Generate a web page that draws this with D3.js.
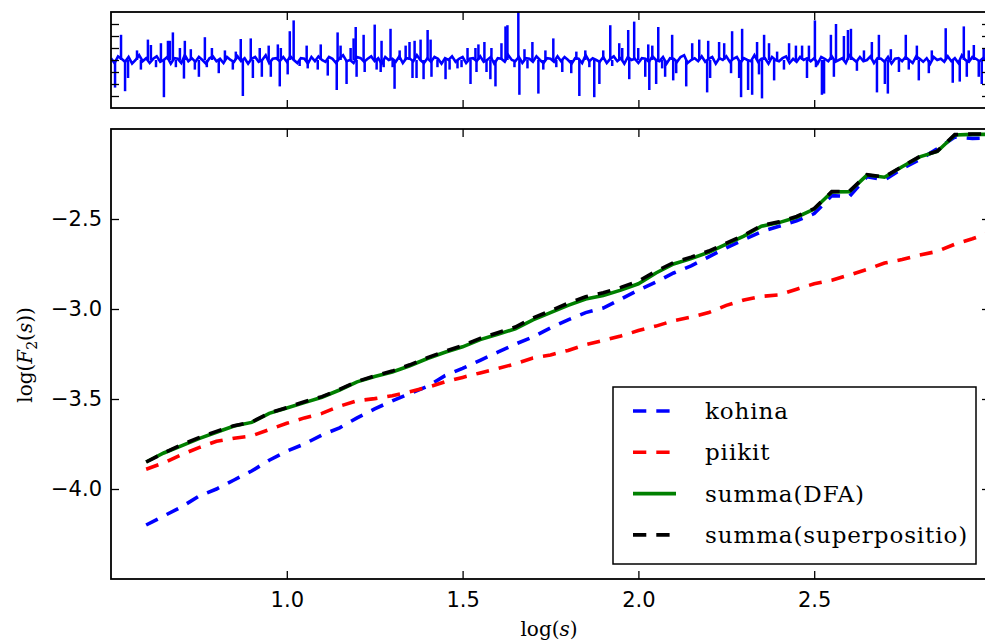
<!DOCTYPE html>
<html>
<head>
<meta charset="utf-8">
<script src="https://cdn.jsdelivr.net/npm/d3@7"></script>
<style>
body { margin: 0; background: #fff; }
.tk text { font-family: "DejaVu Sans", sans-serif; font-size: 21px; fill: #000; }
.tk line { stroke: #000; stroke-width: 1.3px; }
</style>
</head>
<body>
<div class="container"></div>
<script>
const wd = 985
const ht = 643

// bottom panel: DFA curves, x = log(s)
const logS = [0.60,0.65,0.70,0.75,0.80,0.85,0.90,0.95,1.00,1.05,1.10,1.15,1.20,1.25,1.30,1.35,1.40,1.45,1.50,1.55,
  1.60,1.65,1.70,1.75,1.80,1.85,1.90,1.95,2.00,2.05,2.10,2.15,2.20,2.25,2.30,2.35,2.40,2.45,2.50,2.55,
  2.60,2.65,2.70,2.75,2.80,2.85,2.90,2.95,3.00]

const kohina = [-4.20,-4.15,-4.10,-4.04,-4.00,-3.95,-3.90,-3.84,-3.79,-3.75,-3.70,-3.66,-3.605,-3.555,-3.51,-3.47,-3.43,-3.37,-3.33,-3.285,
  -3.24,-3.195,-3.155,-3.105,-3.06,-3.02,-2.995,-2.945,-2.895,-2.85,-2.80,-2.76,-2.71,-2.66,-2.615,-2.57,-2.54,-2.51,-2.47,-2.37,
  -2.375,-2.265,-2.283,-2.22,-2.17,-2.11,-2.045,-2.052,-2.05]

const piikit = [-3.89,-3.855,-3.81,-3.77,-3.735,-3.718,-3.705,-3.67,-3.635,-3.605,-3.58,-3.54,-3.51,-3.498,-3.482,-3.46,-3.435,-3.405,-3.38,-3.355,
  -3.33,-3.305,-3.272,-3.255,-3.23,-3.198,-3.175,-3.15,-3.12,-3.095,-3.065,-3.045,-3.02,-2.98,-2.95,-2.93,-2.922,-2.89,-2.86,-2.84,
  -2.811,-2.78,-2.745,-2.725,-2.70,-2.68,-2.64,-2.61,-2.575]

const summaDFA = [-3.85,-3.80,-3.76,-3.72,-3.685,-3.65,-3.63,-3.58,-3.55,-3.52,-3.49,-3.45,-3.405,-3.375,-3.35,-3.315,-3.275,-3.24,-3.21,-3.17,
  -3.14,-3.11,-3.06,-3.02,-2.98,-2.945,-2.925,-2.895,-2.86,-2.80,-2.75,-2.72,-2.685,-2.64,-2.595,-2.54,-2.52,-2.49,-2.445,-2.35,
  -2.348,-2.256,-2.268,-2.21,-2.155,-2.125,-2.033,-2.03,-2.03]

const summaSup = [-3.85,-3.80,-3.755,-3.715,-3.68,-3.648,-3.628,-3.578,-3.548,-3.515,-3.487,-3.447,-3.402,-3.372,-3.345,-3.31,-3.27,-3.235,-3.203,-3.163,
  -3.132,-3.1,-3.05,-3.01,-2.968,-2.932,-2.91,-2.88,-2.845,-2.79,-2.742,-2.712,-2.678,-2.634,-2.59,-2.536,-2.516,-2.486,-2.442,-2.348,
  -2.346,-2.254,-2.266,-2.208,-2.153,-2.123,-2.031,-2.028,-2.028]

const xTicks = [1.0,1.5,2.0,2.5]
const yTicks = [-4.0,-3.5,-3.0,-2.5]

const legendNames = ["kohina","piikit","summa(DFA)","summa(superpositio)"]
const legendColors = ["#0000ff","#ff0000","#008000","#000000"]
const legendDashed = [true,true,false,true]

// top panel: signal (sample index, value), baseline every 20 samples + spikes
const baseStep = 20
const baseNoise = [
  0.15,-0.25,0.3,0.1,-0.15,0.25,-0.3,0.0,0.4,-0.1,0.15,-0.25,0.1,0.3,-0.15,0.0,0.25,-0.3,0.15,0.1,-0.25,0.4,-0.1,0.15,-0.15,
  0.25,0.0,-0.3,0.15,0.3,-0.1,0.1,-0.25,0.25,0.0,-0.15,0.3,-0.1,0.15,-0.3,0.1,0.25,-0.15,0.0,0.4,-0.25,0.1,0.15,-0.1,0.25,
  -0.15,0.3,0.0,-0.25,0.15,0.1,-0.3,0.25,-0.1,0.3,0.0,-0.15,0.25,0.1,-0.25,0.15,0.4,-0.1,0.0,-0.25,0.25,0.15,-0.15,0.1,0.3,
  -0.1,0.15,-0.3,0.25,0.0,0.1,-0.15,0.3,-0.25,0.15,0.1,-0.1,0.4,0.0,-0.25,0.15,-0.15,0.25,0.1,-0.3,0.15,0.0,0.3,-0.15,0.1,
  0.25,-0.25,0.1,0.15,-0.1,0.3,-0.15,0.0,0.25,-0.3,0.15,0.1,-0.15,0.4,0.0,-0.1,0.25,-0.25,0.15,0.1,-0.15,0.3,0.0,-0.25,0.15,
  0.1,-0.15,0.3,-0.1,0.25,0.0,-0.3,0.15,0.1,-0.25,0.4,-0.1,0.15,0.0,-0.15,0.25,-0.25,0.1,0.3,-0.1,0.15,-0.3,0.25,0.0,0.1,
  -0.25,0.15,0.1,-0.15,0.3,0.0,-0.1,0.25,-0.3,0.15,0.1,-0.15,0.25,0.4,-0.25,0.0,0.15,-0.1,0.3,-0.15,0.1,0.25,-0.3,0.15,0.0,
  0.3,-0.15,0.1,0.25,-0.25,0.15,0.0,-0.1,0.4,-0.15,0.1,0.15,-0.3,0.25,0.0,-0.1,0.15,0.3,-0.25,0.1,-0.15,0.25,0.0,0.15,-0.1,
  0.15,-0.3,0.25,0.1,-0.1,0.3,-0.15,0.0,0.15,-0.25,0.4,0.1,-0.15,0.25,-0.1,0.0,0.3,-0.25,0.15,0.1,-0.15,0.25,-0.3,0.1,0.15,
  -0.1,0.25,0.0,-0.25,0.3,0.1,-0.15,0.15,-0.3,0.25,0.0,0.1,-0.15,0.3,-0.1,0.15,-0.25,0.4,0.0,-0.15,0.25,0.1,-0.1,0.15,0.0]

const spikeT = [23,57,80,97,148,170,210,227,256,284,301,324,335,352,369,392,415,420,454,477,
  500,534,545,574,613,648,693,710,738,750,795,807,846,858,897,909,949,960,966,1005,
  1017,1039,1073,1113,1119,1176,1193,1233,1284,1289,1306,1340,1363,1380,1392,1397,1437,1443,1500,1511,
  1534,1539,1551,1590,1602,1613,1642,1676,1698,1715,1727,1738,1761,1778,1801,1818,1823,1857,1903,1926,
  1971,1994,2028,2045,2073,2079,2090,2124,2136,2158,2164,2187,2221,2244,2255,2295,2317,2323,2352,2369,
  2397,2431,2459,2471,2516,2533,2567,2618,2647,2664,2698,2721,2749,2778,2800,2840,2851,2891,2908,2942,
  2948,2976,2999,3039,3056,3062,3079,3101,3113,3135,3152,3192,3198,3215,3272,3306,3346,3391,3397,3408,
  3459,3488,3527,3533,3573,3584,3590,3624,3647,3675,3686,3703,3715,3743,3772,3789,3828,3857,3896,3931,
  3959,3970,4004,4010,4044,4056,4095,4112,4124,4169,4192,4209,4243,4283,4328,4357,4368,4402,4419,4436,
  4482,4521,4538,4584,4595,4652,4669,4748,4788,4828,4851,4868,4879,4908,4936,4953,4964]
const spikeV = [-2.3,2.1,-2.6,-1.5,0.8,-0.8,1.7,1.25,-0.6,1.4,-3.1,1.6,1.6,2.3,-0.6,1.0,-1.55,1.6,0.9,-0.8,
  -1.4,1.9,-0.6,1.0,-1.1,0.8,-0.8,0.7,1.75,-3.0,1.8,-1.5,1.0,-1.4,1.2,-1.4,1.3,-2.2,1.0,-1.2,
  2.4,3.3,-0.5,1.2,-0.7,-0.8,1.3,-1.3,-2.5,2.3,1.2,-2.0,1.0,1.8,2.75,-1.4,2.1,-1.0,2.95,-0.8,
  -1.0,1.6,-0.6,2.6,-0.6,-2.4,0.8,1.2,1.5,-1.5,1.6,-1.5,1.7,-1.6,2.5,1.7,-1.4,-0.6,-1.6,-0.8,
  -0.7,-0.6,1.0,-2.0,1.0,-1.0,1.3,1.5,-1.0,-1.6,1.0,-2.2,1.4,2.8,2.9,-0.6,4.0,-2.9,0.9,-0.7,
  1.5,-2.8,-0.8,0.8,1.8,-0.6,-1.0,-1.1,0.7,-3.0,0.8,-0.6,-3.1,-2.0,0.8,2.9,-0.5,1.4,1.0,2.5,
  -1.6,3.2,1.0,-1.4,1.3,-2.5,1.2,-2.0,2.75,-0.7,-1.4,2.1,-1.7,-1.1,-2.2,1.4,1.7,-2.7,1.6,-1.5,
  1.5,1.4,-1.1,2.4,-1.5,-3.1,2.6,-2.5,-2.9,1.5,-1.2,-3.2,2.1,1.4,-1.7,0.7,-0.8,1.4,1.2,1.2,
  -1.5,1.2,3.3,-0.6,-2.9,-2.8,2.1,-1.4,3.0,2.0,2.5,2.6,-0.9,0.8,1.5,-2.7,2.1,-2.0,-2.8,0.9,
  -1.0,2.1,-0.8,1.2,-1.7,-1.1,0.8,2.65,-1.9,-1.8,2.8,-1.4,0.8,1.25,-1.4,-2.0,1.0]

const tTicks = [1000,2000,3000,4000]
const vTicks = [-3,-2,-1,0,1,2,3]

const svgC = d3.select(".container")
.append("svg")
.attr("width", wd)
.attr("height", ht)
.style("display", "block")

svgC.append("rect").attr("width", wd).attr("height", ht).attr("fill", "#fff")

const L = 111, R = 990

// ---------- top panel ----------
const tS = d3.scaleLinear().domain([0,5000]).range([L, R])
const vS = d3.scaleLinear().domain([-4,4]).range([108, 12])

svgC.append("clipPath").attr("id","clipTop")
.append("rect").attr("x", L).attr("y", 12).attr("width", R-L).attr("height", 96)

const sigG = svgC.append("g").attr("clip-path", "url(#clipTop)")

let base = baseNoise.map((v,i)=>({t:i*baseStep, v:v}))
const sigLine = d3.line().x(d=>tS(d.t)).y(d=>vS(d.v))

sigG.append("path")
.attr("d", sigLine(base))
.attr("fill", "none")
.style("stroke", "#0000ff")
.style("stroke-width", "2.6px")

// spikes drawn as thin vertical strokes from the baseline
sigG.selectAll(".spk")
.data(spikeT.map((t,i)=>({t:t, v:spikeV[i]})))
.enter().append("line")
.attr("x1", d=>tS(d.t)).attr("x2", d=>tS(d.t))
.attr("y1", vS(0)).attr("y2", d=>vS(d.v))
.style("stroke", "#0000ff")
.style("stroke-width", "2.5px")

function noLab(ax) { return ax.tickSize(-8).tickFormat("") }

svgC.append("g").attr("class","tk").attr("transform",`translate(0,108)`)
.call(noLab(d3.axisBottom(tS).tickValues(tTicks)))
svgC.append("g").attr("class","tk").attr("transform",`translate(0,12)`)
.call(noLab(d3.axisTop(tS).tickValues(tTicks)))
svgC.append("g").attr("class","tk").attr("transform",`translate(${L},0)`)
.call(noLab(d3.axisLeft(vS).tickValues(vTicks)))
svgC.append("g").attr("class","tk").attr("transform",`translate(${R},0)`)
.call(noLab(d3.axisRight(vS).tickValues(vTicks)))

// ---------- bottom panel ----------
const xS = d3.scaleLinear().domain([0.5,3.0]).range([L, R])
const yS = d3.scaleLinear().domain([-4.5,-2.0]).range([579, 129])

svgC.append("clipPath").attr("id","clipBot")
.append("rect").attr("x", L).attr("y", 129).attr("width", R-L).attr("height", 450)

const lineObj = d3.line()
.x(d=> xS(d.x))
.y(d=> yS(d.y))

const allSeries = [kohina, piikit, summaDFA, summaSup]
allSeries.forEach((ser,k)=>{
  let arr = ser.map((v,i)=>({x:logS[i], y:v}))
  svgC.append("path")
  .attr("d", lineObj(arr))
  .attr("clip-path", "url(#clipBot)")
  .attr("fill", "none")
  .style("stroke", legendColors[k])
  .style("stroke-width", "3.6px")
  .style("stroke-dasharray", legendDashed[k] ? "13,10" : null)
})

svgC.append("g").attr("class","tk").attr("transform",`translate(0,579)`)
.call(d3.axisBottom(xS).tickValues(xTicks).tickFormat(d3.format(".1f")).tickSize(-8).tickPadding(13))
svgC.append("g").attr("class","tk").attr("transform",`translate(0,129)`)
.call(noLab(d3.axisTop(xS).tickValues(xTicks)))
svgC.append("g").attr("class","tk").attr("transform",`translate(${L},0)`)
.call(d3.axisLeft(yS).tickValues(yTicks).tickFormat(d3.format(".1f")).tickSize(-8).tickPadding(9))
svgC.append("g").attr("class","tk").attr("transform",`translate(${R},0)`)
.call(noLab(d3.axisRight(yS).tickValues(yTicks)))

svgC.selectAll(".tk .domain").remove()

// frames
svgC.append("rect").attr("x", L).attr("y", 12).attr("width", R-L).attr("height", 96)
.attr("fill","none").attr("stroke","#000").attr("stroke-width", 1.8)
svgC.append("rect").attr("x", L).attr("y", 129).attr("width", R-L).attr("height", 450)
.attr("fill","none").attr("stroke","#000").attr("stroke-width", 1.8)

// axis labels
svgC.append("text")
.attr("x", 549).attr("y", 636)
.attr("text-anchor","middle")
.style("font-family","DejaVu Serif, serif").style("font-size","20px")
.html('log(<tspan font-style="italic">s</tspan>)')

svgC.append("text")
.attr("transform","translate(32,355) rotate(-90)")
.attr("text-anchor","middle")
.style("font-family","DejaVu Serif, serif").style("font-size","20px")
.html('log(<tspan font-style="italic">F</tspan><tspan dy="5" font-size="14px">2</tspan><tspan dy="-5">(</tspan><tspan font-style="italic">s</tspan>))')

// legend
const lg = svgC.append("g")
lg.append("rect").attr("x", 613).attr("y", 387).attr("width", 363).attr("height", 177)
.attr("fill","#fff").attr("stroke","#000").attr("stroke-width", 1.5)

legendNames.forEach((nm,i)=>{
  let yy = 411 + i*41.3
  lg.append("line")
  .attr("x1", 633).attr("x2", 676).attr("y1", yy).attr("y2", yy)
  .style("stroke", legendColors[i])
  .style("stroke-width", "3.6px")
  .style("stroke-dasharray", legendDashed[i] ? "13.3,10" : null)
  lg.append("text")
  .attr("x", 705).attr("y", yy+8)
  .style("font-family","DejaVu Serif, serif").style("font-size","23px")
  .style("letter-spacing","0.9px")
  .text(nm)
})
</script>
</body>
</html>
